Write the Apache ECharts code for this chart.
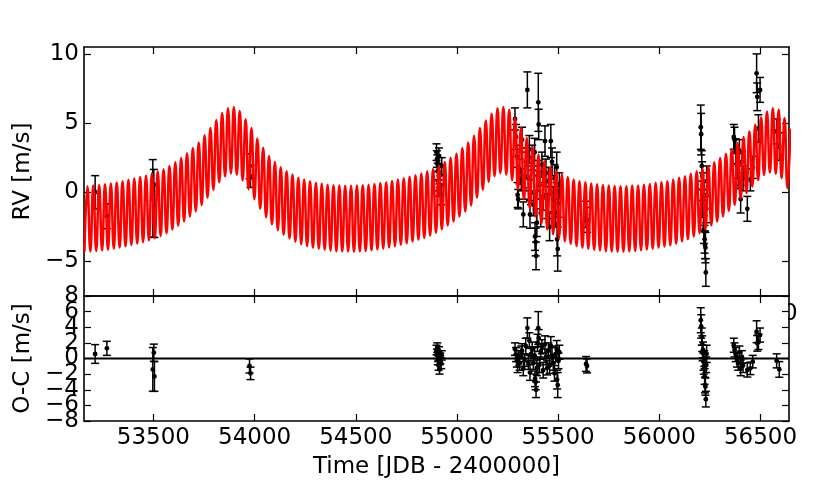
<!DOCTYPE html>
<html><head><meta charset="utf-8">
<script src="https://cdn.jsdelivr.net/npm/echarts@6/dist/echarts.min.js"></script>
<style>html,body{margin:0;padding:0;background:#fff}#c{width:830px;height:496px}</style>
</head><body><div id="c"></div>
<script>
// ---- axes ----
const X_MIN = 53157, X_MAX = 56641;
const X_TICKS = [53500, 54000, 54500, 55000, 55500, 56000, 56500];
const RV_MIN = -7.5, RV_MAX = 10.5;
const RV_TICKS = [-5, 0, 5, 10];
const OC_MIN = -8, OC_MAX = 8;
const OC_TICKS = [-8, -6, -4, -2, 0, 2, 4, 6, 8];

// ---- model curve (read as alternating trough / peak values, one short cycle = 28.95 d) ----
const MODEL_FIRST_T = 53159.4;
const MODEL_HALF_CYCLE = 14.475;
const MODEL_TROUGH = [
  -4.28,
  -4.29,-4.25,-4.2,-4.15,-4.08,-4.0,-3.91,-3.81,-3.71,-3.6,
  -3.47,-3.32,-3.16,-2.96,-2.7,-2.42,-2.1,-1.75,-1.37,-0.92,
  -0.39,0.17,0.72,1.15,1.36,1.27,0.85,0.22,-0.5,-1.19,
  -1.8,-2.32,-2.74,-3.08,-3.34,-3.57,-3.76,-3.89,-4.01,-4.09,
  -4.16,-4.22,-4.26,-4.28,-4.29,-4.3,
  -4.29,-4.25,-4.2,-4.14,-4.08,-4.0,-3.9,-3.8,-3.69,-3.57,
  -3.44,-3.3,-3.13,-2.93,-2.68,-2.4,-2.12,-1.76,-1.4,-0.95,
  -0.39,0.18,0.75,1.17,1.38,1.27,0.87,0.2,-0.51,-1.16,
  -1.76,-2.28,-2.7,-3.04,-3.32,-3.55,-3.74,-3.89,-4.01,-4.09,
  -4.17,-4.21,-4.26,-4.29,-4.31,-4.31,
  -4.27,-4.25,-4.2,-4.14,-4.08,-4.01,-3.93,-3.84,-3.72,-3.56,
  -3.4,-3.2,-2.96,-2.68,-2.4,-2.12,-1.75,-1.35,-0.92,-0.45,
  -0.05,0.42,0.88,1.25,1.42,1.33,1.02,0.3
];
const MODEL_PEAK = [
  0.43,0.48,0.53,0.58,0.63,0.71,0.79,0.9,0.99,1.1,
  1.2,1.35,1.51,1.66,1.9,2.16,2.48,2.82,3.2,3.6,
  4.12,4.64,5.22,5.72,6.08,6.16,5.88,5.28,4.64,3.88,
  3.22,2.62,2.18,1.8,1.51,1.28,1.05,0.92,0.79,0.69,
  0.61,0.55,0.5,0.48,0.47,0.47,
  0.48,0.51,0.55,0.6,0.66,0.72,0.81,0.92,1.02,1.12,
  1.22,1.36,1.52,1.68,1.92,2.18,2.5,2.78,3.2,3.6,
  4.09,4.64,5.19,5.67,6.08,6.16,5.96,5.36,4.64,3.92,
  3.27,2.72,2.24,1.83,1.51,1.28,1.11,0.92,0.79,0.72,
  0.63,0.58,0.53,0.48,0.46,0.43,
  0.43,0.48,0.48,0.55,0.6,0.68,0.72,0.79,0.92,1.04,
  1.15,1.33,1.51,1.71,1.88,2.16,2.48,2.79,3.13,3.56,
  3.99,4.4,4.88,5.43,5.84,6.08,5.96,5.36,4.6
];

// ---- observations ----
const OBS_T = [
  53212,53270,53497,53502,53505,53975,53980,
  54899,54901,54903,54905,54907,54909,54911,54914,54918,54922,54925,
  55287,55292,55296,55300,55303,55310,55318,55322,55328,55334,55340,55348,55353,55358,55361,55366,55372,55378,55384,55386,55389,55391,55395,55398,55402,55404,55408,55414,55420,55426,55435,55440,55446,55452,55458,55464,55470,55476,55482,55488,55493,55495,55498,55502,55506,
  55638,55643,
  56205,56207,56210,56212,56214,56216,56218,56220,56222,56224,56226,56228,56230,56232,56234,
  56368,56372,56378,56384,56390,56396,56402,56408,56414,56435,56450,56462,56481,56484,56490,56498,
  56580,56593
];
const OBS_RV = [
  0.0,-1.73,-0.44,0.55,-1.37,1.88,1.15,
  2.9,2.4,2.1,1.5,0.8,0.3,2.6,1.2,0.5,-0.2,1.9,
  5.3,4.0,2.6,-0.2,-0.5,1.5,0.9,3.8,-1.6,0.3,2.2,7.4,1.0,3.1,-1.6,0.0,2.5,-0.9,2.9,-3.2,-3.6,-4.6,-2.2,1.2,6.5,4.9,0.5,-1.5,2.0,-0.3,3.7,1.4,-1.0,0.8,-2.5,3.7,2.2,-0.5,1.0,-1.5,1.8,-3.4,-4.1,-0.8,0.5,
  -1.6,-2.0,
  4.7,4.2,1.9,1.2,-0.8,0.4,-1.7,-2.7,-0.2,-3.4,-3.8,-4.0,-5.8,-1.2,0.8,
  4.0,3.8,2.96,1.9,1.15,3.0,-0.5,2.2,1.0,-1.2,0.9,1.8,8.6,6.9,4.6,7.4,
  4.4,3.3
];
const OBS_OC = [
  0.58,1.3,-1.4,0.74,-2.3,-0.96,-1.9,
  1.1,0.6,1.4,-0.2,0.3,-0.9,0.9,-1.4,0.0,-0.6,0.4,
  1.2,0.5,-0.3,-0.9,0.3,-0.6,0.8,1.0,-1.3,-0.2,1.6,3.9,-0.5,2.3,-1.8,0.6,1.2,-0.6,0.4,-2.6,-3.0,-4.0,-1.2,2.0,3.9,2.6,-0.8,0.9,1.5,-1.5,1.8,0.2,-1.2,1.0,-0.9,1.6,0.4,-0.6,-1.9,0.6,1.2,-2.7,-3.4,-0.3,0.8,
  -0.7,-0.95,
  4.9,4.1,2.8,1.9,0.7,1.1,-0.4,-1.0,0.0,-2.3,-3.4,-3.6,-5.2,-0.8,0.6,
  1.7,1.1,0.5,-0.2,-0.6,0.8,-1.2,0.2,-0.9,-1.47,-1.26,-0.4,3.43,1.94,2.15,3.0,
  -0.3,-1.4
];
const OBS_ERR = [
  1.2,0.9,2.8,1.1,1.9,0.9,0.8,
  0.6,0.6,0.6,0.6,0.7,0.6,0.6,0.6,0.7,0.7,0.6,
  0.8,0.9,0.8,0.9,0.7,0.9,0.8,0.9,0.9,0.8,1.0,1.3,0.9,1.0,1.0,0.9,0.9,0.8,1.0,1.0,1.0,1.0,1.0,1.1,2.1,1.1,1.0,1.0,0.9,1.0,1.1,1.0,0.9,1.0,1.0,1.2,1.0,0.9,1.0,1.0,1.1,1.2,1.6,1.0,0.9,
  0.95,0.9,
  1.6,1.5,1.1,1.0,1.0,1.0,1.1,1.0,1.0,1.0,1.0,1.1,1.0,1.0,1.1,
  0.9,0.9,0.9,0.9,0.9,0.8,1.0,0.8,0.9,0.9,0.8,0.8,1.4,1.0,1.0,0.9,
  0.9,1.0
];

// ---- build ----
const FONT = 'DejaVu Sans';
const FS = 23;
const modelData = [];
for (let i = 0; i < MODEL_TROUGH.length + MODEL_PEAK.length; i++) {
  const t = MODEL_FIRST_T + i * MODEL_HALF_CYCLE;
  const v = (i % 2 === 0) ? MODEL_TROUGH[i / 2] : MODEL_PEAK[(i - 1) / 2];
  if (v !== undefined) modelData.push([t, v]);
}
const rvData = OBS_T.map((t, i) => [t, OBS_RV[i], OBS_ERR[i]]);
const ocData = OBS_T.map((t, i) => [t, OBS_OC[i], OBS_ERR[i]]);
// the O-C labels overlap each other; split them across two stacked label sets so none is dropped
const OC_LABELS_A = OC_TICKS.filter((v, i) => i % 2 === 0);
const OC_LABELS_B = OC_TICKS.filter((v, i) => i % 2 === 1);

function errRender(params, api) {
  const t = api.value(0), v = api.value(1), e = api.value(2);
  const c = api.coord([t, v]);
  const hi = api.coord([t, v + e]);
  const lo = api.coord([t, v - e]);
  const cap = 4;
  const st = { stroke: '#000', lineWidth: 1.5 };
  return {
    type: 'group',
    children: [
      { type: 'line', shape: { x1: c[0], y1: hi[1], x2: c[0], y2: lo[1] }, style: st },
      { type: 'line', shape: { x1: c[0] - cap, y1: hi[1], x2: c[0] + cap, y2: hi[1] }, style: st },
      { type: 'line', shape: { x1: c[0] - cap, y1: lo[1], x2: c[0] + cap, y2: lo[1] }, style: st },
      { type: 'circle', shape: { cx: c[0], cy: c[1], r: 2.4 }, style: { fill: '#000' } }
    ]
  };
}

const lineStyle = { color: '#000', width: 1.6 };
const minus = v => String(v).replace('-', '\u2212');
function xAx(grid, pos, labels, extra) {
  return Object.assign({
    type: 'value', gridIndex: grid, position: pos, min: X_MIN, max: X_MAX,
    axisLine: { show: true, onZero: false, lineStyle },
    axisTick: { show: true, inside: true, length: 7, lineStyle: { color: '#000', width: 1.2 }, customValues: X_TICKS },
    axisLabel: { show: labels, customValues: X_TICKS, color: '#000', fontFamily: FONT, fontSize: FS, margin: 6,
                 formatter: v => String(v) },
    splitLine: { show: false }
  }, extra || {});
}
function yAx(grid, pos, labels, min, max, ticks, labelValues, extra) {
  return Object.assign({
    type: 'value', gridIndex: grid, position: pos, min, max,
    axisLine: { show: true, onZero: false, lineStyle },
    axisTick: { show: true, inside: true, length: 7, lineStyle: { color: '#000', width: 1.2 }, customValues: ticks },
    axisLabel: { show: labels, customValues: labelValues || ticks, color: '#000', fontFamily: FONT, fontSize: FS, margin: 5,
                 formatter: minus, showMinLabel: true, showMaxLabel: true, hideOverlap: false },
    splitLine: { show: false }
  }, extra || {});
}

const chart = echarts.init(document.getElementById('c'));
chart.setOption({
  animation: false,
  backgroundColor: '#fff',
  grid: [
    { left: 84, top: 47, width: 705, height: 249 },
    { left: 84, top: 296, width: 705, height: 125 }
  ],
  xAxis: [
    xAx(0, 'bottom', false),
    xAx(0, 'top', false),
    xAx(1, 'bottom', true, {
      name: 'Time [JDB - 2400000]', nameLocation: 'middle', nameGap: 35,
      nameTextStyle: { color: '#000', fontFamily: FONT, fontSize: FS }
    }),
    xAx(1, 'top', false)
  ],
  yAxis: [
    yAx(0, 'left', true, RV_MIN, RV_MAX, RV_TICKS, null, {
      name: 'RV [m/s]', nameLocation: 'middle', nameGap: 46, nameRotate: 90,
      nameTextStyle: { color: '#000', fontFamily: FONT, fontSize: FS }
    }),
    yAx(0, 'right', false, RV_MIN, RV_MAX, RV_TICKS),
    yAx(1, 'left', true, OC_MIN, OC_MAX, OC_TICKS, OC_LABELS_A, {
      name: 'O-C [m/s]', nameLocation: 'middle', nameGap: 46, nameRotate: 90,
      nameTextStyle: { color: '#000', fontFamily: FONT, fontSize: FS }
    }),
    yAx(1, 'right', false, OC_MIN, OC_MAX, OC_TICKS),
    yAx(1, 'left', true, OC_MIN, OC_MAX, OC_TICKS, OC_LABELS_B, {
      axisLine: { show: false, onZero: false }, axisTick: { show: false }
    })
  ],
  graphic: [
    { type: 'text', x: 761, y: 314, z: -10,
      style: { text: String(X_TICKS[X_TICKS.length - 1]), font: FS + 'px "' + FONT + '"', textAlign: 'center', textVerticalAlign: 'middle', fill: '#000' } },
    { type: 'rect', z: -5, shape: { x: 85, y: 297, width: 703, height: 123 }, style: { fill: '#fff' } }
  ],
  series: [
    {
      type: 'custom', xAxisIndex: 0, yAxisIndex: 0, data: rvData, renderItem: errRender,
      clip: true, z: 2, silent: true, encode: { x: 0, y: 1 }
    },
    {
      type: 'line', xAxisIndex: 0, yAxisIndex: 0, data: modelData, showSymbol: false,
      smooth: 0.5, clip: true, z: 3, silent: true,
      lineStyle: { color: '#ff0000', width: 2.5 }
    },
    {
      type: 'line', xAxisIndex: 2, yAxisIndex: 2, data: [[X_MIN, 0], [X_MAX, 0]], showSymbol: false,
      z: 2, silent: true, lineStyle: { color: '#000', width: 2 }
    },
    {
      type: 'custom', xAxisIndex: 2, yAxisIndex: 2, data: ocData, renderItem: errRender,
      clip: true, z: 3, silent: true, encode: { x: 0, y: 1 }
    }
  ]
});
</script>
</body></html>
